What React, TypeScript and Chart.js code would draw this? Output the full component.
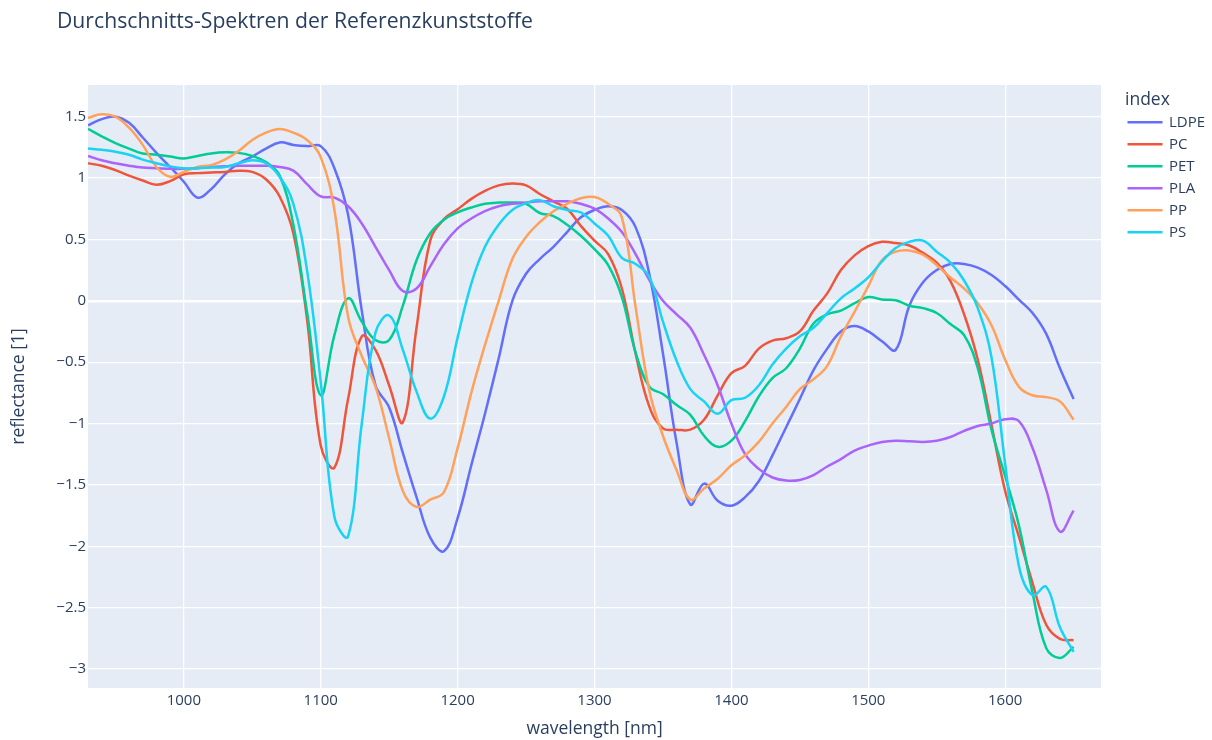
import React, { useEffect, useRef } from "react";
import { Chart, registerables } from "chart.js";

Chart.register(...registerables);

const wavelengths = [
  930, 940, 950, 960, 970, 980, 990, 1000, 1010, 1020, 1030, 1040, 1050, 1060, 1070, 1080, 1090, 1100,
  1110, 1120, 1130, 1140, 1150, 1160, 1170, 1180, 1190, 1200, 1210, 1220, 1230, 1240, 1250, 1260, 1270,
  1280, 1290, 1300, 1310, 1320, 1330, 1340, 1350, 1360, 1370, 1380, 1390, 1400, 1410, 1420, 1430, 1440,
  1450, 1460, 1470, 1480, 1490, 1500, 1510, 1520, 1530, 1540, 1550, 1560, 1570, 1580, 1590, 1600, 1610,
  1620, 1630, 1640, 1650,
];

const seriesNames = ["LDPE", "PC", "PET", "PLA", "PP", "PS"];
const seriesColors = ["#636efa", "#EF553B", "#00cc96", "#ab63fa", "#FFA15A", "#19d3f3"];

const ldpe = [
  1.43, 1.48, 1.5, 1.45, 1.33, 1.205, 1.09, 0.97, 0.84, 0.91, 1.03, 1.12, 1.175, 1.24, 1.29, 1.27, 1.26, 1.26,
  1.08, 0.7, -0.08, -0.69, -0.87, -1.24, -1.6, -1.93, -2.04, -1.77, -1.34, -0.92, -0.47, 0.0, 0.22, 0.34, 0.44,
  0.56, 0.68, 0.74, 0.77, 0.74, 0.6, 0.22, -0.43, -1.16, -1.66, -1.49, -1.63, -1.67, -1.6, -1.47, -1.26, -1.03,
  -0.8, -0.565, -0.39, -0.25, -0.205, -0.25, -0.33, -0.4, -0.04, 0.15, 0.25, 0.3, 0.3, 0.27, 0.21, 0.12, 0.01,
  -0.1, -0.27, -0.55, -0.8,
];

const pc = [
  1.12, 1.1, 1.065, 1.02, 0.98, 0.945, 0.975, 1.03, 1.04, 1.045, 1.05, 1.06, 1.05, 0.99, 0.85, 0.55, -0.15, -1.18,
  -1.36, -0.8, -0.29, -0.4, -0.69, -0.99, -0.22, 0.49, 0.665, 0.745, 0.83, 0.895, 0.94, 0.955, 0.94, 0.87, 0.81,
  0.75, 0.61, 0.49, 0.38, 0.1, -0.43, -0.86, -1.04, -1.05, -1.05, -0.97, -0.77, -0.59, -0.53, -0.39, -0.325, -0.305,
  -0.25, -0.08, 0.06, 0.25, 0.37, 0.445, 0.48, 0.47, 0.45, 0.39, 0.31, 0.16, -0.11, -0.48, -1.01, -1.55, -1.92,
  -2.3, -2.64, -2.755, -2.765,
];

const pet = [
  1.4, 1.34, 1.285, 1.24, 1.2, 1.19, 1.175, 1.16, 1.18, 1.2, 1.21, 1.205, 1.18, 1.13, 1.02, 0.62, -0.09, -0.77,
  -0.28, 0.02, -0.17, -0.32, -0.32, -0.04, 0.33, 0.55, 0.66, 0.72, 0.76, 0.79, 0.8, 0.8, 0.79, 0.715, 0.69,
  0.62, 0.53, 0.42, 0.29, 0.03, -0.42, -0.7, -0.76, -0.85, -0.93, -1.1, -1.19, -1.14, -0.98, -0.78, -0.63, -0.55,
  -0.39, -0.185, -0.11, -0.08, -0.02, 0.03, 0.01, 0.005, -0.04, -0.06, -0.1, -0.19, -0.28, -0.55, -1.05, -1.43,
  -1.83, -2.38, -2.83, -2.91, -2.82,
];

const pla = [
  1.18, 1.145, 1.12, 1.1, 1.085, 1.08, 1.075, 1.075, 1.08, 1.09, 1.095, 1.1, 1.1, 1.1, 1.09, 1.06, 0.95, 0.85,
  0.84, 0.77, 0.63, 0.44, 0.25, 0.08, 0.1, 0.28, 0.46, 0.59, 0.67, 0.73, 0.77, 0.79, 0.8, 0.81, 0.81, 0.81,
  0.79, 0.75, 0.67, 0.56, 0.38, 0.17, 0.0, -0.11, -0.22, -0.44, -0.69, -1.0, -1.25, -1.37, -1.44, -1.465, -1.46,
  -1.42, -1.35, -1.29, -1.22, -1.18, -1.15, -1.14, -1.145, -1.15, -1.14, -1.11, -1.06, -1.02, -1.0, -0.965, -0.98,
  -1.2, -1.54, -1.88, -1.71,
];

const pp = [
  1.49, 1.52, 1.5, 1.41, 1.27, 1.09, 1.01, 1.05, 1.09, 1.105, 1.15, 1.22, 1.31, 1.37, 1.4, 1.37, 1.31, 1.17,
  0.74, -0.13, -0.45, -0.7, -1.12, -1.55, -1.68, -1.62, -1.56, -1.2, -0.75, -0.36, 0.0, 0.34, 0.52, 0.64, 0.73,
  0.79, 0.835, 0.845, 0.79, 0.68, -0.05, -0.73, -1.1, -1.38, -1.62, -1.53, -1.45, -1.34, -1.26, -1.15, -1.0, -0.865,
  -0.72, -0.64, -0.53, -0.29, -0.09, 0.12, 0.33, 0.4, 0.41, 0.375, 0.29, 0.19, 0.1, -0.02, -0.2, -0.48, -0.7,
  -0.77, -0.785, -0.82, -0.97,
];

const ps = [
  1.24, 1.23, 1.215, 1.19, 1.15, 1.12, 1.095, 1.08, 1.08, 1.085, 1.09, 1.12, 1.145, 1.12, 1.01, 0.79, 0.25, -0.66,
  -1.76, -1.92, -1.0, -0.26, -0.12, -0.4, -0.74, -0.96, -0.78, -0.3, 0.14, 0.44, 0.62, 0.74, 0.795, 0.82, 0.77,
  0.74, 0.72, 0.63, 0.53, 0.35, 0.3, 0.195, -0.17, -0.49, -0.72, -0.82, -0.92, -0.81, -0.79, -0.69, -0.52, -0.39,
  -0.29, -0.22, -0.1, 0.02, 0.1, 0.19, 0.32, 0.43, 0.48, 0.49, 0.4, 0.31, 0.165, -0.06, -0.46, -1.33, -2.16,
  -2.4, -2.33, -2.66, -2.86,
];

const xTicks = [1000, 1100, 1200, 1300, 1400, 1500, 1600];
const yTicks = [-3, -2.5, -2, -1.5, -1, -0.5, 0, 0.5, 1, 1.5];

const chartTitle = "Durchschnitts-Spektren der Referenzkunststoffe";
const xTitle = "wavelength [nm]";
const yTitle = "reflectance [1]";
const legendTitle = "index";

const TEXT = "#2a3f5f";
const FONT = '"Open Sans", verdana, arial, sans-serif';

export default function App() {
  const ref = useRef<HTMLCanvasElement>(null);

  useEffect(() => {
    document.body.style.margin = "0";
    const series = [ldpe, pc, pet, pla, pp, ps];
    const datasets = series.map((vals, i) => ({
      label: seriesNames[i],
      data: wavelengths.map((x, j) => ({ x, y: vals[j] })),
      borderColor: seriesColors[i],
      backgroundColor: seriesColors[i],
      borderWidth: 2.5,
      pointRadius: 0,
      tension: 0.4,
      fill: false,
      order: series.length - 1 - i,
    }));

    const bgPlugin = {
      id: "plotBg",
      beforeDraw(chart: any) {
        const { ctx, chartArea: a } = chart;
        ctx.save();
        ctx.fillStyle = "#E5ECF6";
        ctx.fillRect(a.left, a.top, a.right - a.left, a.bottom - a.top);
        ctx.restore();
      },
    };

    const textPlugin = {
      id: "texts",
      afterDraw(chart: any) {
        const { ctx, chartArea: a } = chart;
        ctx.save();
        ctx.fillStyle = TEXT;
        ctx.textAlign = "left";
        ctx.textBaseline = "alphabetic";
        ctx.font = `21.2px ${FONT}`;
        ctx.fillText(chartTitle, 57, 27.5);

        ctx.font = `17.5px ${FONT}`;
        ctx.textAlign = "center";
        ctx.textBaseline = "middle";
        ctx.fillText(xTitle, (a.left + a.right) / 2, 729.5);

        ctx.save();
        ctx.translate(19.5, (a.top + a.bottom) / 2);
        ctx.rotate(-Math.PI / 2);
        ctx.fillText(yTitle, 0, 0);
        ctx.restore();

        ctx.textAlign = "left";
        ctx.font = `17.5px ${FONT}`;
        ctx.fillText(legendTitle, 1125, 100);
        ctx.font = `15px ${FONT}`;
        seriesNames.forEach((name, i) => {
          const y = 122.3 + i * 22;
          ctx.strokeStyle = seriesColors[i];
          ctx.lineWidth = 2.5;
          ctx.beginPath();
          ctx.moveTo(1127.5, y);
          ctx.lineTo(1162.5, y);
          ctx.stroke();
          ctx.fillStyle = TEXT;
          ctx.fillText(name, 1169, y);
        });
        ctx.restore();
      },
    };

    const chart = new Chart(ref.current as HTMLCanvasElement, {
      type: "line",
      data: { datasets } as any,
      options: {
        responsive: false,
        animation: false,
        devicePixelRatio: 1,
        layout: { padding: { top: 85, right: 111, left: 0, bottom: 0 } },
        plugins: {
          legend: { display: false },
          title: { display: false },
          tooltip: { enabled: false },
        },
        scales: {
          x: {
            type: "linear",
            min: 930,
            max: 1670,
            afterFit: (s: any) => {
              s.height = 52;
            },
            afterBuildTicks: (s: any) => {
              s.ticks = xTicks.map((v) => ({ value: v }));
            },
            grid: { color: "#ffffff", lineWidth: 1.25, drawTicks: false },
            border: { display: false },
            ticks: {
              color: TEXT,
              font: { family: FONT, size: 15 },
              padding: 4,
              maxRotation: 0,
              autoSkip: false,
              callback: (v: any) => String(v),
            },
          },
          y: {
            type: "linear",
            min: -3.155,
            max: 1.758,
            afterFit: (s: any) => {
              s.width = 88;
            },
            afterBuildTicks: (s: any) => {
              s.ticks = yTicks.map((v) => ({ value: v }));
            },
            grid: {
              color: "#ffffff",
              lineWidth: (c: any) => (c.tick && c.tick.value === 0 ? 2.5 : 1.25),
              drawTicks: false,
            },
            border: { display: false },
            ticks: {
              color: TEXT,
              font: { family: FONT, size: 15 },
              padding: 2,
              autoSkip: false,
              callback: (v: any) => (v < 0 ? "\u2212" + Math.abs(v) : String(v)),
            },
          },
        },
      } as any,
      plugins: [bgPlugin, textPlugin],
    });

    return () => chart.destroy();
  }, []);

  return (
    <div style={{ width: 1212, height: 740, position: "relative", background: "#ffffff" }}>
      <canvas ref={ref} width={1212} height={740} style={{ display: "block" }} />
    </div>
  );
}
